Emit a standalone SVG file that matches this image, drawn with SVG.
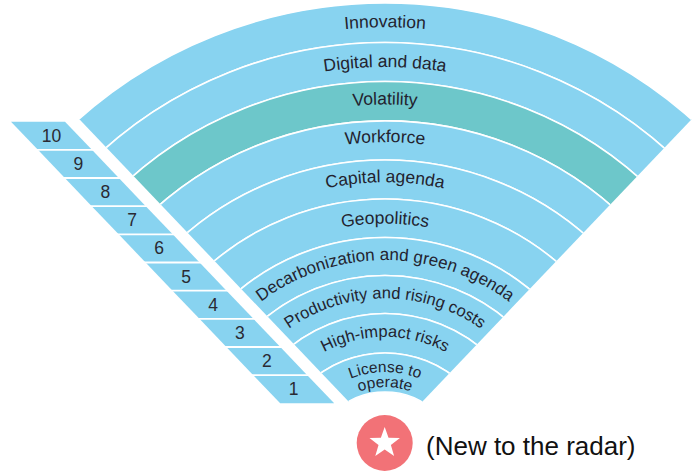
<svg xmlns="http://www.w3.org/2000/svg" width="700" height="472" viewBox="0 0 700 472">
<style>
.band{fill:#88D3F0;stroke:#ffffff;stroke-width:1.6;fill-rule:evenodd}
.teal{fill:#6DC7CA}
.cell{fill:#88D3F0}
.sep{stroke:#ffffff;stroke-width:1.8}
.lbl{font-family:"Liberation Sans",Arial,sans-serif;font-size:17.5px;fill:#23232f;text-anchor:middle}
.sm{font-size:16.5px}
.xs{font-size:15.5px}
.num{font-family:"Liberation Sans",Arial,sans-serif;font-size:17.5px;fill:#2a2a33;text-anchor:middle}
.legend{font-family:"Liberation Sans",Arial,sans-serif;font-size:26px;fill:#111111}
</style>
<defs>
<clipPath id="fan"><polygon points="-39,-5 810,-5 385.5,440.3"/></clipPath>
<path id="p9" d="M5.9,246.1 A437.8,437.8 0 0 1 764.1,246.1"/>
<path id="p8" d="M40.5,265.9 A397.8,397.8 0 0 1 729.5,265.9"/>
<path id="p7" d="M72.8,284.75 A360.5,360.5 0 0 1 697.2,284.75"/>
<path id="p6" d="M105.4,303.6 A322.8,322.8 0 0 1 664.6,303.6"/>
<path id="p5" d="M140.1,323.6 A282.8,282.8 0 0 1 629.9,323.6"/>
<path id="p4" d="M175.9,344.25 A241.5,241.5 0 0 1 594.1,344.25"/>
<path id="p3" d="M207.5,362.5 A205,205 0 0 1 562.5,362.5"/>
<path id="p2" d="M240.6,381.5 A167,167 0 0 1 529.4,381.5"/>
<path id="p1" d="M273.8,400.5 A129,129 0 0 1 496.2,400.5"/>
<path id="p0a" d="M304.5,418.5 A93,93 0 0 1 465.5,418.5"/>
<path id="p0b" d="M317.5,426 A78,78 0 0 1 452.5,426"/>
</defs>

<g id="radar-bands" clip-path="url(#fan)">
<g id="band-innovation"><path class="band" d="M-77,465 a462,462 0 1 0 924,0 a462,462 0 1 0 -924,0 Z M-37.5,465 a422.5,422.5 0 1 0 845,0 a422.5,422.5 0 1 0 -845,0 Z"/></g>
<g id="band-digital"><path class="band" d="M-37.5,465 a422.5,422.5 0 1 0 845,0 a422.5,422.5 0 1 0 -845,0 Z M1.7,465 a383.3,383.3 0 1 0 766.6,0 a383.3,383.3 0 1 0 -766.6,0 Z"/></g>
<g id="band-volatility"><path class="band teal" d="M1.7,465 a383.3,383.3 0 1 0 766.6,0 a383.3,383.3 0 1 0 -766.6,0 Z M41,465 a344,344 0 1 0 688,0 a344,344 0 1 0 -688,0 Z"/></g>
<g id="band-workforce"><path class="band" d="M41,465 a344,344 0 1 0 688,0 a344,344 0 1 0 -688,0 Z M80,465 a305,305 0 1 0 610,0 a305,305 0 1 0 -610,0 Z"/></g>
<g id="band-capital"><path class="band" d="M80,465 a305,305 0 1 0 610,0 a305,305 0 1 0 -610,0 Z M119,465 a266,266 0 1 0 532,0 a266,266 0 1 0 -532,0 Z"/></g>
<g id="band-geopolitics"><path class="band" d="M119,465 a266,266 0 1 0 532,0 a266,266 0 1 0 -532,0 Z M157.5,465 a227.5,227.5 0 1 0 455,0 a227.5,227.5 0 1 0 -455,0 Z"/></g>
<g id="band-decarbonization"><path class="band" d="M157.5,465 a227.5,227.5 0 1 0 455,0 a227.5,227.5 0 1 0 -455,0 Z M195.5,465 a189.5,189.5 0 1 0 379,0 a189.5,189.5 0 1 0 -379,0 Z"/></g>
<g id="band-productivity"><path class="band" d="M195.5,465 a189.5,189.5 0 1 0 379,0 a189.5,189.5 0 1 0 -379,0 Z M233.5,465 a151.5,151.5 0 1 0 303,0 a151.5,151.5 0 1 0 -303,0 Z"/></g>
<g id="band-highimpact"><path class="band" d="M233.5,465 a151.5,151.5 0 1 0 303,0 a151.5,151.5 0 1 0 -303,0 Z M273,465 a112,112 0 1 0 224,0 a112,112 0 1 0 -224,0 Z"/></g>
<g id="band-license"><path class="band" d="M273,465 a112,112 0 1 0 224,0 a112,112 0 1 0 -224,0 Z M312,465 a73,73 0 1 0 146,0 a73,73 0 1 0 -146,0 Z"/></g>
</g>

<g id="radar-labels">
<text class="lbl"><textPath href="#p9" startOffset="50%">Innovation</textPath></text>
<text class="lbl"><textPath href="#p8" startOffset="50%">Digital and data</textPath></text>
<text class="lbl"><textPath href="#p7" startOffset="50%">Volatility</textPath></text>
<text class="lbl"><textPath href="#p6" startOffset="50%">Workforce</textPath></text>
<text class="lbl"><textPath href="#p5" startOffset="50%">Capital agenda</textPath></text>
<text class="lbl"><textPath href="#p4" startOffset="50%">Geopolitics</textPath></text>
<text class="lbl" style="font-size:17px"><textPath href="#p3" startOffset="50%">Decarbonization and green agenda</textPath></text>
<text class="lbl sm"><textPath href="#p2" startOffset="50%">Productivity and rising costs</textPath></text>
<text class="lbl sm"><textPath href="#p1" startOffset="50%">High-impact risks</textPath></text>
<text class="lbl xs"><textPath href="#p0a" startOffset="50%">License to</textPath></text>
<text class="lbl xs"><textPath href="#p0b" startOffset="50%">operate</textPath></text>
</g>

<g id="rank-scale">
<g id="rank-10"><polygon class="cell" points="11,121.7 65,121.7 91.92,149.86 37.92,149.86"/><text class="num" x="51.5" y="141.8">10</text></g>
<g id="rank-9"><polygon class="cell" points="37.92,149.86 91.92,149.86 118.84,178.02 64.84,178.02"/><text class="num" x="78.4" y="170">9</text></g>
<g id="rank-8"><polygon class="cell teal" points="64.84,178.02 118.84,178.02 145.76,206.18 91.76,206.18"/><text class="num" x="105.3" y="198.1">8</text></g>
<g id="rank-7"><polygon class="cell" points="91.76,206.18 145.76,206.18 172.68,234.34 118.68,234.34"/><text class="num" x="132.2" y="226.3">7</text></g>
<g id="rank-6"><polygon class="cell" points="118.68,234.34 172.68,234.34 199.6,262.5 145.6,262.5"/><text class="num" x="159.1" y="254.4">6</text></g>
<g id="rank-5"><polygon class="cell" points="145.6,262.5 199.6,262.5 226.52,290.66 172.52,290.66"/><text class="num" x="186.1" y="282.6">5</text></g>
<g id="rank-4"><polygon class="cell" points="172.52,290.66 226.52,290.66 253.44,318.82 199.44,318.82"/><text class="num" x="213" y="310.7">4</text></g>
<g id="rank-3"><polygon class="cell" points="199.44,318.82 253.44,318.82 280.36,346.98 226.36,346.98"/><text class="num" x="239.9" y="338.9">3</text></g>
<g id="rank-2"><polygon class="cell" points="226.36,346.98 280.36,346.98 307.28,375.14 253.28,375.14"/><text class="num" x="266.8" y="367.1">2</text></g>
<g id="rank-1"><polygon class="cell" points="253.28,375.14 307.28,375.14 334.2,403.3 280.2,403.3"/><text class="num" x="293.7" y="395.2">1</text></g>
<g id="rank-separators" class="sep">
<line x1="30" y1="149.86" x2="100" y2="149.86"/>
<line x1="57" y1="178.02" x2="127" y2="178.02"/>
<line x1="84" y1="206.18" x2="154" y2="206.18"/>
<line x1="111" y1="234.34" x2="181" y2="234.34"/>
<line x1="138" y1="262.5" x2="208" y2="262.5"/>
<line x1="165" y1="290.66" x2="235" y2="290.66"/>
<line x1="192" y1="318.82" x2="262" y2="318.82"/>
<line x1="219" y1="346.98" x2="289" y2="346.98"/>
<line x1="246" y1="375.14" x2="316" y2="375.14"/>
</g>
</g>

<g id="legend">
<circle cx="384.7" cy="443" r="28" fill="#F27277"/>
<polygon fill="#ffffff" points="384.7,427 388.52,437.74 399.92,438.06 390.88,445.01 394.1,455.94 384.7,449.5 375.3,455.94 378.52,445.01 369.48,438.06 380.88,437.74"/>
<text class="legend" x="426" y="455">(New to the radar)</text>
</g>

<g id="connectors"/>
</svg>
